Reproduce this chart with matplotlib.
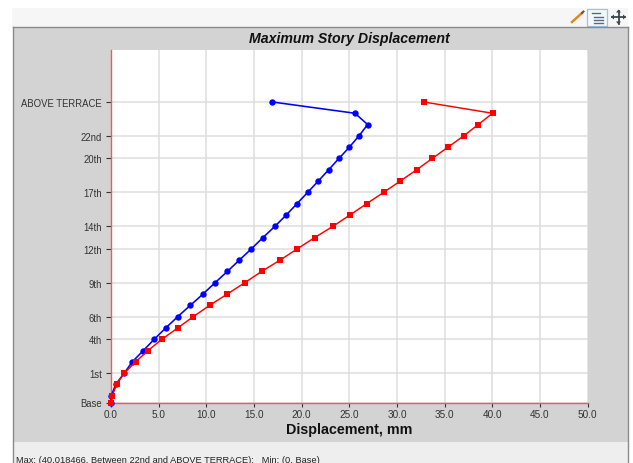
import matplotlib
matplotlib.use("Agg")
import matplotlib.pyplot as plt
from matplotlib.patches import Rectangle, Polygon
from matplotlib.lines import Line2D

plt.rcParams['font.family'] = ['Liberation Sans', 'DejaVu Sans']

levels = [0, 0.6, 1.6, 2.6, 3.6, 4.6, 5.6, 6.6, 7.6, 8.6, 9.6, 10.6, 11.6, 12.6,
          13.6, 14.6, 15.6, 16.6, 17.6, 18.6, 19.6, 20.6, 21.6, 22.6, 23.6, 24.6, 25.6, 26.6]
blue_disp = [0, 0.03, 0.49, 1.39, 2.23, 3.39, 4.54, 5.74, 7.0, 8.32, 9.65, 10.91, 12.2, 13.46,
             14.72, 15.94, 17.2, 18.39, 19.51, 20.63, 21.74, 22.83, 23.91, 25.0, 26.01, 26.92, 25.59, 16.92]
red_disp = [0, 0.14, 0.59, 1.39, 2.59, 3.88, 5.35, 7.0, 8.63, 10.35, 12.2, 14.02, 15.8, 17.73,
            19.54, 21.37, 23.29, 25.07, 26.82, 28.6, 30.34, 32.06, 33.7, 35.35, 36.99, 38.52, 40.02, 32.8]
# the 28 levels run Base to ABOVE TERRACE
story_ticks = [0, 2.6, 5.6, 7.6, 10.6, 13.6, 15.6, 18.6, 21.6, 23.6, 26.6]
story_labels = ['Base', '1st', '4th', '6th', '9th', '12th', '14th', '17th', '20th', '22nd', 'ABOVE TERRACE']
disp_ticks = [0, 5, 10, 15, 20, 25, 30, 35, 40, 45, 50]
title = 'Maximum Story Displacement'
xlabel = 'Displacement, mm'
footer = 'Max: (40.018466, Between 22nd and ABOVE TERRACE);   Min: (0, Base)'

W, H = 633, 464
fig = plt.figure(figsize=(W / 100, H / 100), dpi=100, facecolor='white')


def box(x0, y0, x1, y1, **kw):
    fig.add_artist(Rectangle((x0 / W, 1 - y1 / H), (x1 - x0) / W, (y1 - y0) / H,
                             transform=fig.transFigure, **kw))


def line(xs, ys, **kw):
    fig.add_artist(Line2D([x / W for x in xs], [1 - y / H for y in ys],
                          transform=fig.transFigure, **kw))


# window chrome
box(12, 9, 628, 28, fc='#f6f6f6', ec='none')
box(13, 28, 628, 443, fc='#d3d3d3', ec='none')
box(14, 443, 628, 464, fc='#eeeeee', ec='none')
line([13, 628], [28, 28], color='#8a8a8a', lw=1)
line([13, 13], [28, 464], color='#8a8a8a', lw=1)
line([628, 628], [28, 464], color='#8a8a8a', lw=1)

# toolbar icons
line([572, 582], [23, 14], color='#e08a1e', lw=1.8)
line([582, 583.5], [14, 12.5], color='#555555', lw=1.4)
box(587, 10, 607, 27, fc='#f4f8fc', ec='#9cc2e4', lw=0.9)
for y0, x0, x1 in [(14, 592, 600), (18, 594, 603), (21, 594, 603), (24, 594, 603)]:
    line([x0, x1], [y0, y0], color='#5a6a78', lw=1.0)
line([612, 625], [18, 18], color='#3a4650', lw=1.3)
line([618.5, 618.5], [11.5, 24.5], color='#3a4650', lw=1.3)
for verts in ([(618.5, 10.5), (616, 13.5), (621, 13.5)], [(618.5, 25.5), (616, 22.5), (621, 22.5)],
              [(611, 18), (614, 15.5), (614, 20.5)], [(626, 18), (623, 15.5), (623, 20.5)]):
    fig.add_artist(Polygon([(x / W, 1 - y / H) for x, y in verts], closed=True,
                           transform=fig.transFigure, fc='#3a4650', ec='none'))

# plot
ax = fig.add_axes([111 / W, 1 - 403.5 / H, 476.7 / W, 352.5 / H], facecolor='white')
ax.set_zorder(10)
ax.set_xlim(0, 50)
ax.set_ylim(0, 31.2)
ax.set_xticks(disp_ticks)
ax.set_xticklabels([f'{v:.1f}' for v in disp_ticks])
ax.set_yticks(story_ticks)
ax.set_yticklabels(story_labels)
ax.grid(True, color='#dedede', lw=1.1)
ax.set_axisbelow(True)
ax.tick_params(axis='x', length=3, width=0.8, color='#333333', labelsize=7.2,
               labelcolor='#333333', pad=2)
ax.tick_params(axis='y', length=3.6, width=0.8, color='#333333', labelsize=6.85,
               labelcolor='#333333', pad=3)
for s in ('top', 'right'):
    ax.spines[s].set_visible(False)
for s in ('left', 'bottom'):
    ax.spines[s].set_color('#ee5a5a')
    ax.spines[s].set_linewidth(1)

ax.plot(blue_disp, levels, color='#0000ff', lw=1.15, marker='o', ms=4.6, mew=0, clip_on=False, zorder=4)
ax.plot(red_disp, levels, color='#ff0000', lw=1.05, marker='s', ms=3.8, mew=0, clip_on=False, zorder=5)

fig.text(349.5 / W, 1 - 38.5 / H, title, ha='center', va='center', fontsize=10.2,
         fontweight='bold', fontstyle='italic', color='#111111')
fig.text(349 / W, 1 - 430.5 / H, xlabel, ha='center', va='center', fontsize=10.3,
         fontweight='bold', color='#111111')
fig.text(16 / W, 1 - 460.5 / H, footer, ha='left', va='center', fontsize=6.65, color='#222222')

fig.savefig('out.png', dpi=100, facecolor='white')
